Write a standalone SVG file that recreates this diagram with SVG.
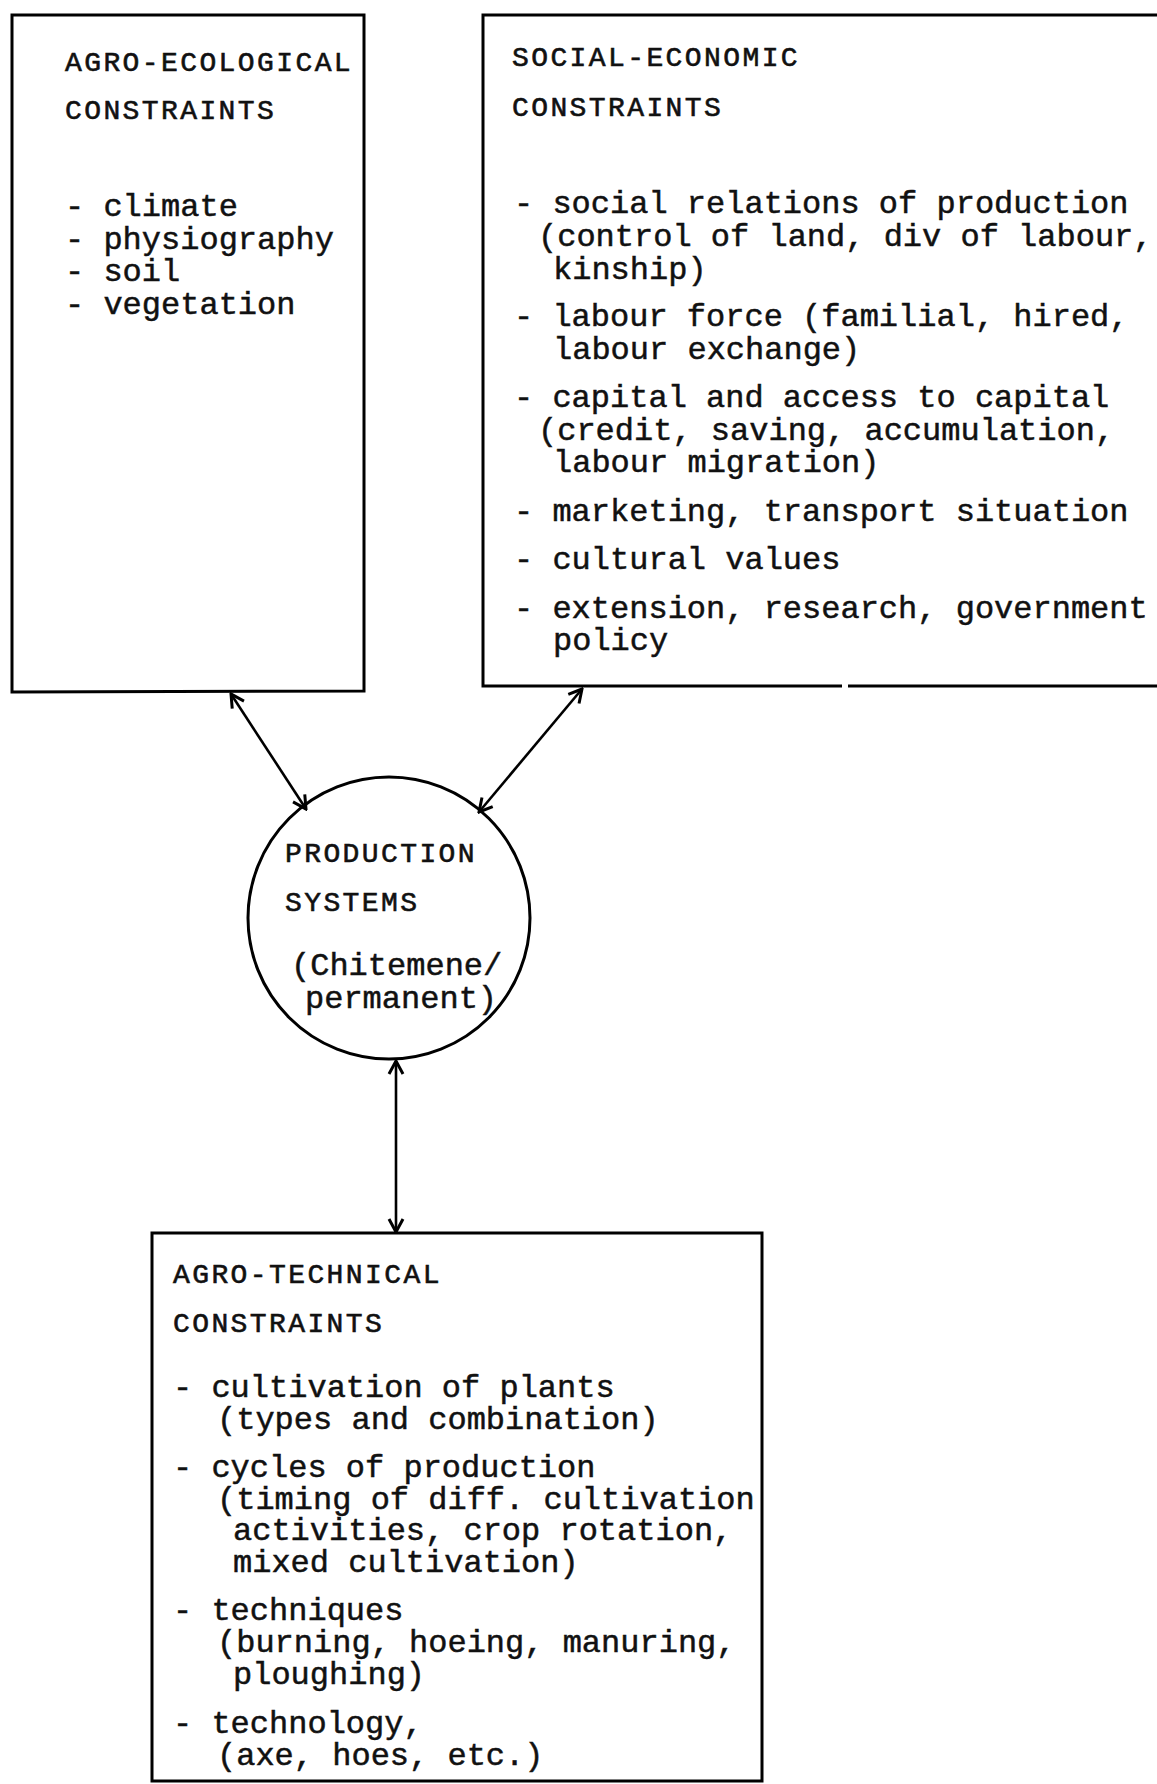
<svg xmlns="http://www.w3.org/2000/svg" width="1157" height="1784" viewBox="0 0 1157 1784">
<style>
.bx{fill:none;stroke:#000;stroke-width:3;stroke-linejoin:miter}
.hd{font-family:"Liberation Mono",monospace;font-size:28px;letter-spacing:2.4px;fill:#111;stroke:#111;stroke-width:0.6}
.tx{font-family:"Liberation Mono",monospace;font-size:32px;fill:#111;stroke:#111;stroke-width:0.5}
.cn{fill:none;stroke:#000;stroke-width:2.6}
</style>
<defs>
<marker id="ah" viewBox="0 0 18 18" refX="16" refY="9" markerWidth="18" markerHeight="18" markerUnits="userSpaceOnUse" orient="auto-start-reverse">
<path d="M3,2 L16,9 L3,16" fill="none" stroke="#000" stroke-width="3"/>
</marker>
</defs>
<rect width="1157" height="1784" fill="#fff"/>
<g id="agro-ecological">
<path class="bx" d="M12,15 L364,15 L364,691 L12,692 Z"/>
<text class="hd" x="65" y="71">AGRO-ECOLOGICAL</text>
<text class="hd" x="65" y="119">CONSTRAINTS</text>
<text class="tx" x="65" y="216">- climate</text>
<text class="tx" x="65" y="249">- physiography</text>
<text class="tx" x="65" y="281">- soil</text>
<text class="tx" x="65" y="314">- vegetation</text>
</g>
<g id="social-economic">
<path class="bx" d="M1157,15 L483,15 L483,686 L842,686 M848,686 L1157,686"/>
<text class="hd" x="512" y="66">SOCIAL-ECONOMIC</text>
<text class="hd" x="512" y="116">CONSTRAINTS</text>
<text class="tx" x="514" y="213">- social relations of production</text>
<text class="tx" x="538" y="246">(control of land, div of labour,</text>
<text class="tx" x="553" y="279">kinship)</text>
<text class="tx" x="514" y="326">- labour force (familial, hired,</text>
<text class="tx" x="553" y="359">labour exchange)</text>
<text class="tx" x="514" y="407">- capital and access to capital</text>
<text class="tx" x="538" y="440">(credit, saving, accumulation,</text>
<text class="tx" x="553" y="472">labour migration)</text>
<text class="tx" x="514" y="521">- marketing, transport situation</text>
<text class="tx" x="514" y="569">- cultural values</text>
<text class="tx" x="514" y="618">- extension, research, government</text>
<text class="tx" x="553" y="650">policy</text>
</g>
<g id="production-systems">
<circle class="bx" cx="389" cy="918" r="141" stroke-width="2.8"/>
<text class="hd" x="285" y="862">PRODUCTION</text>
<text class="hd" x="285" y="911">SYSTEMS</text>
<text class="tx" x="291" y="975">(Chitemene/</text>
<text class="tx" x="305" y="1008">permanent)</text>
</g>
<g id="agro-technical">
<path class="bx" d="M152,1233 L762,1233 L762,1781 L152,1781 Z"/>
<text class="hd" x="173" y="1283">AGRO-TECHNICAL</text>
<text class="hd" x="173" y="1332">CONSTRAINTS</text>
<text class="tx" x="173" y="1397">- cultivation of plants</text>
<text class="tx" x="217" y="1429">(types and combination)</text>
<text class="tx" x="173" y="1477">- cycles of production</text>
<text class="tx" x="217" y="1509">(timing of diff. cultivation</text>
<text class="tx" x="233" y="1540">activities, crop rotation,</text>
<text class="tx" x="233" y="1572">mixed cultivation)</text>
<text class="tx" x="173" y="1620">- techniques</text>
<text class="tx" x="217" y="1652">(burning, hoeing, manuring,</text>
<text class="tx" x="233" y="1684">ploughing)</text>
<text class="tx" x="173" y="1733">- technology,</text>
<text class="tx" x="217" y="1765">(axe, hoes, etc.)</text>
</g>
<g id="connectors">
<path class="cn" d="M231,694 L306,809" marker-start="url(#ah)" marker-end="url(#ah)"/>
<path class="cn" d="M582,689 L479,812" marker-start="url(#ah)" marker-end="url(#ah)"/>
<path class="cn" d="M396,1061 L396,1232" marker-start="url(#ah)" marker-end="url(#ah)"/>
</g>
</svg>
